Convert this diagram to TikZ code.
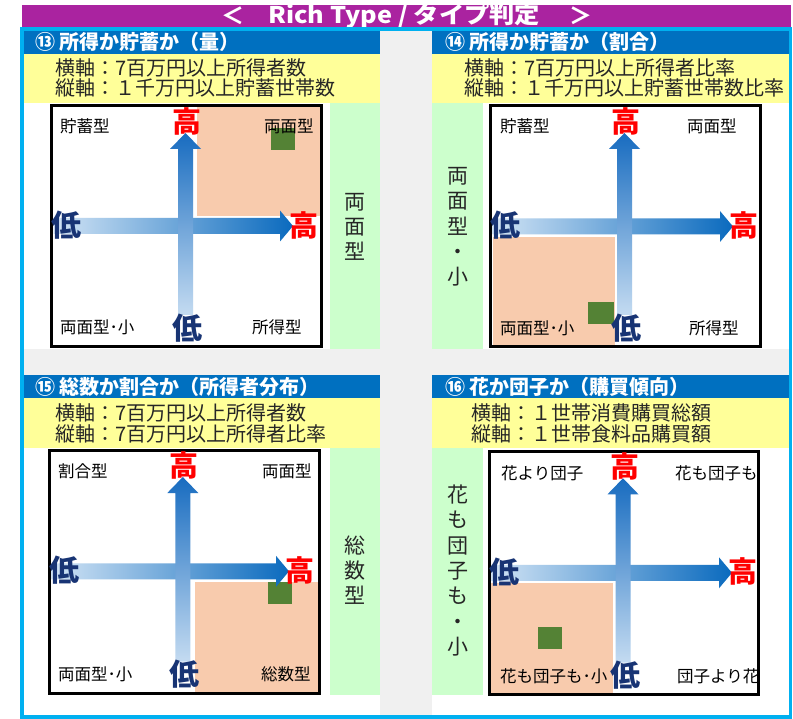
\documentclass[tikz,border=0pt]{standalone}
\usepackage{graphicx}
\usepackage{fontspec}
\setmainfont{Noto Sans CJK JP}
\definecolor{purp}{RGB}{170,35,160}
\definecolor{cyanb}{RGB}{0,176,240}
\definecolor{hdrblue}{RGB}{0,112,192}
\definecolor{yel}{RGB}{255,255,153}
\definecolor{grn}{RGB}{204,255,204}
\definecolor{peach}{RGB}{248,203,173}
\definecolor{dgrn}{RGB}{84,130,53}
\definecolor{gapgray}{RGB}{240,240,240}
\definecolor{txt}{RGB}{38,38,38}
\definecolor{lonavy}{RGB}{24,52,116}
\definecolor{vdark}{RGB}{24,108,192}
\definecolor{vlight}{RGB}{196,219,241}
\definecolor{hdark}{RGB}{10,106,190}
\definecolor{hlight}{RGB}{210,228,245}
\newcommand{\qchart}[9]{%
  \shade[left color=hlight, right color=hdark] (#2+2,#7-8) -- (#9-13,#7-8) -- (#9-13,#7-15.5) -- (#9,#7) -- (#9-13,#7+15.5) -- (#9-13,#7+8) -- (#2+2,#7+8) -- cycle;
  \shade[top color=vdark, bottom color=vlight] (#6-7.5,#5-32) -- (#6-7.5,#8+16) -- (#6-15.5,#8+16) -- (#6,#8) -- (#6+15.5,#8+16) -- (#6+7.5,#8+16) -- (#6+7.5,#5-32) -- cycle;
  \draw[line width=3] (#2,#3) rectangle (#4,#5);
  \node[hi] (#1hiT) at (#6+1.5,#8-12) {高};
  \node[hi] (#1hiR) at (#9+11,#7-1) {高};
  \node[lo] (#1loL) at (#2+15,#7-1) {低};
  \node[lo] (#1loB) at (#6+2,#5-19) {低};
}
\begin{document}
\begin{tikzpicture}[x=1pt,y=-1pt,
  ttl/.style={text=white, font=\fontsize{23}{23}\selectfont\bfseries, inner sep=0},
  hdr/.style={anchor=west, text=white, font=\fontsize{20}{20}\selectfont\bfseries, inner sep=0},
  ax/.style={anchor=west, text=txt, font=\fontsize{20}{20}\selectfont, inner sep=0},
  vtxt/.style={align=center, text=txt, font=\fontsize{21}{25.3}\selectfont, inner sep=0},
  hi/.style={text=red, font=\fontsize{29}{29}\selectfont\bfseries, inner sep=0},
  lo/.style={text=lonavy, font=\fontsize{30}{30}\selectfont\bfseries, inner sep=0},
  corner/.style={anchor=west, text=black, font=\fontsize{16.5}{16.5}\selectfont, inner sep=0}]
\useasboundingbox[fill=white] (0,0) rectangle (793,719);
% title bar
\fill[purp] (22,5) rectangle (790.7,27);
\node[ttl] (tl) at (233,16) {＜};
\node[ttl, anchor=west] (tm) at (268,16) {\resizebox{272pt}{\height}{Rich Type / タイプ判定}};
\node[ttl] (tr) at (581,16) {＞};
% background gray and panel whites
\fill[gapgray] (22,28.8) rectangle (790.7,717.2);
\fill[white] (23,30) rectangle (380,349);
\fill[white] (432,30) rectangle (788.5,349);
\fill[white] (23,375) rectangle (380,716);
\fill[white] (432,375) rectangle (788.5,716);
% headers
\fill[hdrblue] (23,30) rectangle (380,54);
\fill[hdrblue] (432,30) rectangle (788.5,54);
\fill[hdrblue] (23,375) rectangle (380,398.3);
\fill[hdrblue] (432,375) rectangle (788.5,398.3);
\fill[yel] (23,54) rectangle (380,103);
\fill[yel] (432,54) rectangle (788.5,103);
\fill[yel] (23,398.3) rectangle (380,448);
\fill[yel] (432,398.3) rectangle (788.5,448);
\fill[grn] (330,103) rectangle (380,349);
\fill[grn] (432,103) rectangle (483,349);
\fill[grn] (330,448) rectangle (380,695);
\fill[grn] (432,448) rectangle (483,695);
% outer border
\draw[cyanb, line width=3.5] (22,28.8) rectangle (790.7,717.2);
% header texts
\node[hdr] (h13) at (35,42) {⑬ 所得か貯蓄か（量）};
\node[hdr] (h14) at (445,42) {⑭ 所得か貯蓄か（割合）};
\node[hdr] (h15) at (35,386.7) {⑮ 総数か割合か（所得者分布）};
\node[hdr] (h16) at (445,386.7) {⑯ 花か団子か（購買傾向）};
\node[ax] (a13x) at (55,68) {横軸：7百万円以上所得者数};
\node[ax] (a13y) at (55,88) {縦軸：１千万円以上貯蓄世帯数};
\node[ax] (a14x) at (464,68) {横軸：7百万円以上所得者比率};
\node[ax] (a14y) at (464,88) {縦軸：１千万円以上貯蓄世帯数比率};
\node[ax] (a15x) at (55,412.5) {横軸：7百万円以上所得者数};
\node[ax] (a15y) at (55,433.5) {縦軸：7百万円以上所得者比率};
\node[ax] (a16x) at (471,413) {横軸：１世帯消費購買総額};
\node[ax] (a16y) at (471,433.5) {縦軸：１世帯食料品購買額};
% side strips
\node[vtxt] (s13) at (355,227) {両\\面\\型};
\node[vtxt] (s14) at (458,227) {両\\面\\型\\・\\小};
\node[vtxt] (s15) at (355,570) {総\\数\\型};
\node[vtxt] (s16) at (458,570.5) {花\\も\\団\\子\\も\\・\\小};
% highlighted quadrants
\fill[peach] (197,107.5) rectangle (320,216.5);
\fill[dgrn] (271,128) rectangle (295,150);
\fill[peach] (493,237) rectangle (614.5,346);
\fill[dgrn] (588,302) rectangle (614,324);
\fill[peach] (195,582) rectangle (318,692.5);
\fill[dgrn] (268,582) rectangle (292,604);
\fill[peach] (491,582.5) rectangle (613,693);
\fill[dgrn] (538,627) rectangle (562,649);
% charts
\qchart{c13}{51.5}{106}{321.7}{347}{185.5}{226}{133}{293}
\qchart{c14}{490.5}{106}{760}{347}{624.5}{226.5}{133}{733}
\qchart{c15}{49}{450.5}{319.5}{693.5}{182.8}{571.3}{477}{289}
\qchart{c16}{489}{451}{758.7}{694.5}{623}{572.8}{478.3}{732}
% corner labels
\node[corner] (q13a) at (60,126.5) {貯蓄型};
\node[corner] (q13b) at (264,126.5) {両面型};
\node[corner] (q13c) at (60,327) {両面型･小};
\node[corner] (q13d) at (252,327) {所得型};
\node[corner] (q14a) at (500,126.5) {貯蓄型};
\node[corner] (q14b) at (687,126.5) {両面型};
\node[corner] (q14c) at (500,328) {両面型･小};
\node[corner] (q14d) at (689,328) {所得型};
\node[corner] (q15a) at (58,471) {割合型};
\node[corner] (q15b) at (262,471) {両面型};
\node[corner] (q15c) at (58,674) {両面型･小};
\node[corner] (q15d) at (261,674) {総数型};
\node[corner] (q16a) at (501,473) {花より団子};
\node[corner] (q16b) at (675,473) {花も団子も};
\node[corner] (q16c) at (500,676) {花も団子も･小};
\node[corner] (q16d) at (677,676) {団子より花};
\end{tikzpicture}
\end{document}
